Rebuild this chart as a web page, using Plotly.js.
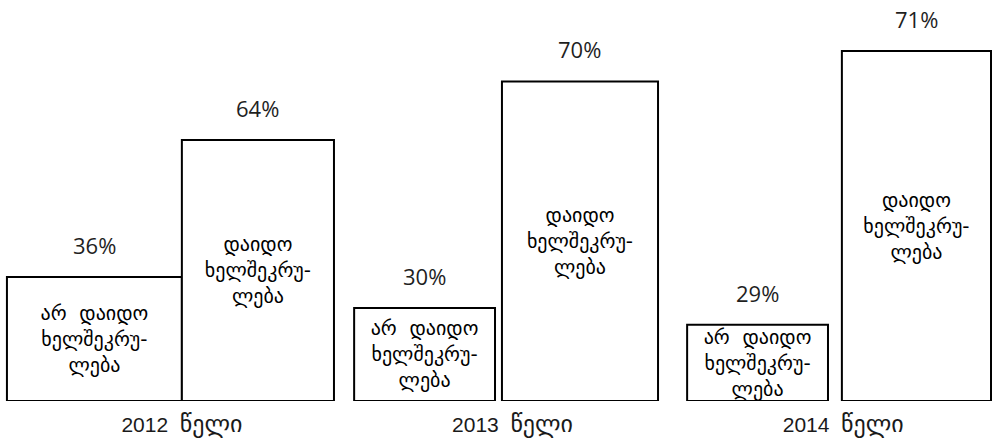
<!DOCTYPE html>
<html>
<head>
<meta charset="utf-8">
<script src="https://cdn.plot.ly/plotly-3.0.1.min.js"></script>
<style>html,body{margin:0;padding:0;background:#fff;}#chart{width:992px;height:442px;}</style>
</head>
<body>
<div id="chart"></div>
<script>
// Data
var years = ["2012", "2013", "2014"];
var yearWord = "წელი";
var notSignedPct = ["36%", "30%", "29%"];
var signedPct = ["64%", "70%", "71%"];
// bar heights as drawn in the picture (share of plot height)
var notSignedHeight = [30.9, 23.2, 19.0];
var signedHeight = [65.1, 79.7, 87.3];
var notSignedLabel = "არ  დაიდო<br>ხელშეკრუ-<br>ლება";
var signedLabel = "დაიდო<br>ხელშეკრუ-<br>ლება";

// layout / style (positions within each category)
var nsOffset = [-0.529, -0.479, -0.472];
var nsWidth = [0.529, 0.426, 0.426];
var sOffset = [0.0, -0.032, -0.004];
var sWidth = [0.46, 0.472, 0.451];

var georgianFont = "'DejaVu Sans', sans-serif";
var barStyle = {color: "#ffffff", line: {color: "#000000", width: 2}};

var traces = [
  {
    type: "bar", x: years, y: notSignedHeight,
    offset: nsOffset, width: nsWidth,
    marker: barStyle,
    text: years.map(function(){return notSignedLabel;}),
    textposition: "inside", insidetextanchor: "middle", constraintext: "none",
    textfont: {family: georgianFont, size: 20, color: "#000"},
    hoverinfo: "skip", showlegend: false
  },
  {
    type: "bar", x: years, y: signedHeight,
    offset: sOffset, width: sWidth,
    marker: barStyle,
    text: years.map(function(){return signedLabel;}),
    textposition: "inside", insidetextanchor: "middle", constraintext: "none",
    textfont: {family: georgianFont, size: 20, color: "#000"},
    hoverinfo: "skip", showlegend: false
  }
];

var annotations = [];
years.forEach(function(yr, i) {
  annotations.push({
    x: i + nsOffset[i] + nsWidth[i] / 2, y: notSignedHeight[i], xref: "x", yref: "y",
    text: notSignedPct[i], showarrow: false, yanchor: "middle", yshift: 32,
    font: {family: "'Open Sans', sans-serif", size: 22, color: "#1f1f1f"}
  });
  annotations.push({
    x: i + sOffset[i] + sWidth[i] / 2, y: signedHeight[i], xref: "x", yref: "y",
    text: signedPct[i], showarrow: false, yanchor: "middle", yshift: 32,
    font: {family: "'Open Sans', sans-serif", size: 22, color: "#1f1f1f"}
  });
});

var layout = {
  width: 992, height: 442,
  margin: {l: 0, r: 0, t: 0, b: 41, pad: 0},
  paper_bgcolor: "#ffffff", plot_bgcolor: "#ffffff",
  showlegend: false,
  barmode: "overlay",
  uniformtext: {mode: false},
  xaxis: {
    type: "category", range: [-0.55, 2.45], fixedrange: true,
    showline: false, showgrid: false, zeroline: false, ticks: "",
    tickvals: years,
    ticktext: years.map(function(y){return y + "  <span style='font-size:24px'>" + yearWord + "</span>";}),
    ticklabelstandoff: 9,
    tickfont: {family: "'Liberation Sans', 'DejaVu Sans', sans-serif", size: 21, color: "#1a1a1a"}
  },
  yaxis: {
    range: [0, 100], visible: false, fixedrange: true,
    showgrid: false, zeroline: false
  },
  annotations: annotations
};

Plotly.newPlot("chart", traces, layout, {displayModeBar: false, staticPlot: true});
</script>
</body>
</html>
